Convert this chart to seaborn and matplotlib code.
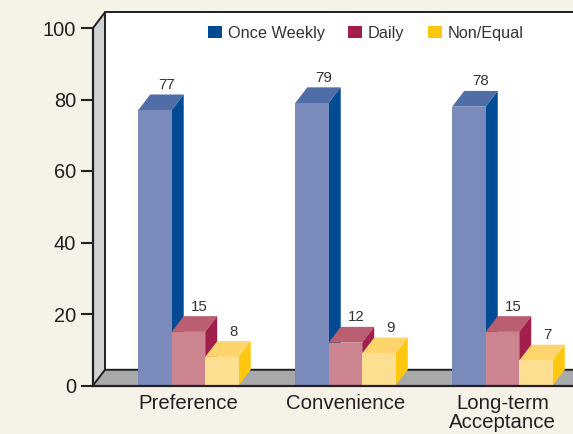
import pandas as pd
import seaborn as sns
import matplotlib.pyplot as plt
from matplotlib.patches import Patch, Polygon

categories = ['Preference', 'Convenience', 'Long-term\nAcceptance']
series_names = ['Once Weekly', 'Daily', 'Non/Equal']
once_weekly = [77, 79, 78]
daily = [15, 12, 15]
non_equal = [8, 9, 7]
y_ticks = [0, 20, 40, 60, 80, 100]

FRONT = ['#7a8bbb', '#cb8490', '#fddf91']
TOP = ['#4f6ea8', '#ba5f72', '#fdd56c']
SIDE = ['#004b93', '#a21e4d', '#fdc70f']
BG = '#f6f2e8'
INK = '#231f20'

# depth of the fake 3D effect, in data units
DX = 0.0764
DY = 4.4


def main() -> None:
    sns.set_style('white')
    plt.rcParams['font.family'] = ['Liberation Sans', 'DejaVu Sans']

    data = pd.DataFrame({
        'category': categories * 3,
        'series': [s for s in series_names for _ in categories],
        'value': once_weekly + daily + non_equal,
    })

    fig = plt.figure(figsize=(5.73, 4.34), dpi=100, facecolor=BG)
    ax = fig.add_axes([93 / 573, 48.5 / 434, 480 / 573, 357.5 / 434])
    ax.set_facecolor(BG)

    sns.barplot(data=data, x='category', y='value', hue='series',
                hue_order=series_names, palette=FRONT, saturation=1,
                width=0.64, gap=0, legend=False, linewidth=0, ax=ax)
    ax.set_xlim(-0.608, 2.449)
    ax.set_ylim(0, 100)
    x0, x1 = ax.get_xlim()
    y1 = ax.get_ylim()[1]

    # Back wall, side wall and floor
    walls = [([(x0 + DX, 0), (x0 + DX, y1 + DY), (x1, y1 + DY), (x1, 0)], 'white'),
             ([(x0, 0), (x0, y1), (x0 + DX, y1 + DY), (x0 + DX, DY)], '#cfd1d3'),
             ([(x0, 0), (x0 + DX, DY), (x1, DY), (x1, 0)], '#a7a9ab')]
    for pts, color in walls:
        ax.add_patch(Polygon(pts, closed=True, fc=color, ec='none', zorder=0.5,
                             clip_on=False))
    ax.plot([x0, x0 + DX, x0 + DX, x1], [y1, y1 + DY, DY, DY], color=INK, lw=1.4,
            zorder=1, clip_on=False, solid_joinstyle='miter')
    ax.plot([x0 + DX, x1], [y1 + DY, y1 + DY], color=INK, lw=1.4, zorder=1, clip_on=False)
    ax.plot([x0, x0 + DX], [0, DY], color=INK, lw=1.4, zorder=1, clip_on=False)

    # Extrude each seaborn bar into a box, later series sit in front
    for i, container in enumerate(ax.containers):
        for bar in container:
            left = bar.get_x()
            right = left + bar.get_width()
            top = bar.get_height()
            z = 2 + i
            bar.set_zorder(z + 0.2)
            ax.add_patch(Polygon([(left, top), (left + DX, top + DY),
                                  (right + DX, top + DY), (right, top)],
                                 closed=True, fc=TOP[i], ec='none', zorder=z + 0.1,
                                 clip_on=False))
            ax.add_patch(Polygon([(right, 0), (right, top), (right + DX, top + DY),
                                  (right + DX, DY)],
                                 closed=True, fc=SIDE[i], ec='none', zorder=z + 0.1,
                                 clip_on=False))
            ax.text((left + right) / 2 + DX - 0.005, top + DY + 0.7, f'{top:.0f}',
                    ha='center', va='bottom', fontsize=10.8, color='#333333', zorder=8)

    sns.despine(ax=ax, top=True, right=True)
    for side in ['left', 'bottom']:
        ax.spines[side].set_color(INK)
        ax.spines[side].set_linewidth(1.6)
        ax.spines[side].set_zorder(7)
    ax.set_xlabel('')
    ax.set_ylabel('')
    ax.set_yticks(y_ticks)
    ax.tick_params(axis='y', length=8.5, width=1.5, color=INK, left=True, pad=3.5,
                   labelsize=14.4, labelcolor=INK)
    ax.tick_params(axis='x', length=0, pad=6, labelsize=14.7, labelcolor=INK)
    for label in ax.get_xticklabels():
        label.set_linespacing(1.02)

    handles = [Patch(fc=c, ec='none') for c in SIDE]
    ax.legend(handles, series_names, ncol=3, frameon=False, fontsize=11.7,
              loc='upper left', bbox_to_anchor=(0.24, 1.006), borderpad=0,
              borderaxespad=0, handlelength=0.85, handleheight=0.8,
              handletextpad=0.36, columnspacing=1.45, labelcolor='#333333')

    fig.savefig('out.png', dpi=100, facecolor=BG)


if __name__ == '__main__':
    main()
